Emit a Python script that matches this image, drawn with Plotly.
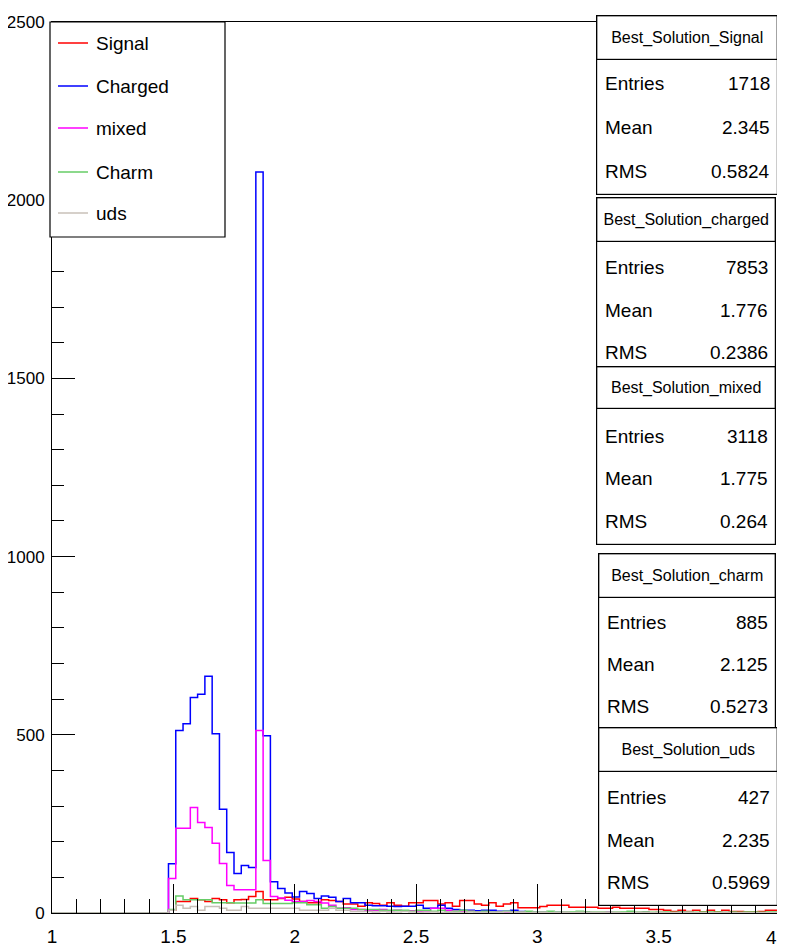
import plotly.graph_objects as go

# ---------------- data (bin contents, 100 bins from 1 to 4) ----------------
N_BINS = 100
X_LOW, X_HIGH = 1.0, 4.0

signal = [0]*16 + [
    8, 32, 32, 41, 37, 32, 41, 37, 29, 37, 38, 46, 60, 37, 37, 41,
    44, 39, 32, 29, 29, 37, 35, 32, 25, 25, 19, 29, 27, 22, 29, 22, 19, 29,
    29, 35, 35, 25, 29, 19, 35, 35, 25, 22, 29, 19, 25, 29, 15, 15, 15,
    18, 22, 22, 22, 16, 16, 16, 16, 13, 13, 16, 13, 13, 13, 13, 10, 10,
    8, 4, 8, 4, 8, 3, 8, 3, 8, 4, 4, 3, 3, 4, 8, 8]

charged = [0]*16 + [
    138, 512, 531, 605, 614, 664, 503, 291, 170, 111, 133, 128, 2079, 497,
    88, 69, 56, 45, 60, 55, 41, 48, 44, 32, 41, 29, 29, 22, 20, 20,
    19, 18, 19, 19, 22, 13, 13, 22, 13, 10, 8, 8, 6, 8, 8, 5, 5, 8, 4, 2,
    2, 2, 1, 2, 1, 1, 0, 1, 0, 0, 1, 0, 0, 0, 0, 1, 0, 0, 0, 0,
    0, 0, 0, 0, 0, 0, 0, 0, 0, 0, 0, 0, 0, 0]

mixed = [0]*16 + [
    97, 238, 238, 296, 254, 240, 196, 139, 77, 65, 65, 65, 512, 147,
    46, 42, 36, 32, 32, 35, 32, 28, 22, 13, 15, 10, 10, 8, 8, 10,
    6, 8, 5, 6, 5, 4, 13, 13, 8, 5, 4, 5, 3, 3, 2, 3, 2, 2, 3, 2,
    1, 2, 1, 1, 2, 1, 1, 2, 1, 1, 2, 1, 0, 1, 1, 2, 1, 0, 1, 1,
    2, 1, 0, 1, 1, 0, 1, 0, 1, 1, 0, 1, 0, 1]

charm = [0]*16 + [
    10, 48, 37, 37, 37, 37, 29, 29, 29, 28, 28, 28, 37, 27, 27, 27,
    27, 29, 29, 23, 23, 13, 18, 13, 13, 13, 10, 10, 10, 8, 8, 8,
    8, 5, 8, 8, 5, 8, 3, 5, 8, 5, 3, 5, 3, 3, 5, 3, 3, 5, 3, 3,
    5, 3, 3, 3, 5, 3, 3, 3, 2, 3, 3, 5, 3, 3, 2, 3, 3, 2, 3, 3,
    2, 3, 3, 3, 2, 3, 2, 3, 3, 2, 3, 3]

uds = [0]*16 + [
    8, 22, 13, 18, 8, 18, 18, 13, 8, 8, 18, 13, 13, 13, 13, 13,
    13, 13, 8, 8, 8, 8, 13, 8, 8,
    4, 4, 4, 3, 4, 3, 3, 4, 3, 2, 3, 3, 2, 3, 2, 2, 3, 2, 2, 2,
    2, 3, 2, 2, 1, 2, 2, 1, 2, 2, 1, 2, 1, 2, 2, 1, 2, 1, 1, 2,
    1, 1, 2, 1, 1, 1, 2, 1, 1, 1, 1, 2, 1, 1, 1, 1, 1, 1, 1]

names = ["Signal", "Charged", "mixed", "Charm", "uds"]
colors = ["#ff0000", "#0000ff", "#ff00ff", "#66cc66", "#c8c0b8"]
series = [signal, charged, mixed, charm, uds]

stats = [
    ("Best_Solution_Signal", "1718", "2.345", "0.5824"),
    ("Best_Solution_charged", "7853", "1.776", "0.2386"),
    ("Best_Solution_mixed", "3118", "1.775", "0.264"),
    ("Best_Solution_charm", "885", "2.125", "0.5273"),
    ("Best_Solution_uds", "427", "2.235", "0.5969"),
]

x_ticks = [1, 1.5, 2, 2.5, 3, 3.5, 4]
x_tick_labels = ["1", "1.5", "2", "2.5", "3", "3.5", "4"]
y_ticks = [0, 500, 1000, 1500, 2000, 2500]

# ---------------- layout geometry ----------------
# the page places the figure 8px in from the top-left corner
OFF = 8
W, H = 785 - OFF, 951 - OFF
L, R, T, B = 52 - OFF, 5, 22 - OFF, 38
PW, PH = W - L - R, H - T - B
FONT = "Liberation Sans, Arial, sans-serif"


def px(x, y):
    """screen pixel -> paper coordinates"""
    x -= OFF
    y -= OFF
    return (x - L) / PW, (H - B - y) / PH


fig = go.Figure()
step = (X_HIGH - X_LOW) / N_BINS
edges = [X_LOW + i * step for i in range(N_BINS + 1)]
for name, col, vals in zip(names, colors, series):
    fig.add_trace(go.Scatter(
        x=edges, y=list(vals) + [vals[-1]], mode="lines", name=name,
        line=dict(color=col, width=1.5, shape="hv"), showlegend=False))

shapes = []
annotations = []

# ---------------- legend (drawn manually, ROOT style) ----------------
lx0, ly0, lx1, ly1 = 50, 22, 225, 237
a0, b0 = px(lx0, ly0)
a1, b1 = px(lx1, ly1)
shapes.append(dict(type="rect", xref="paper", yref="paper", x0=a0, x1=a1, y0=b1, y1=b0,
                   line=dict(color="black", width=1.2), fillcolor="white", layer="above"))
row_y = [43, 86, 128, 172, 213]
for name, col, ry in zip(names, colors, row_y):
    xa, ya = px(58, ry)
    xb, _ = px(88, ry)
    shapes.append(dict(type="line", xref="paper", yref="paper", x0=xa, x1=xb, y0=ya, y1=ya,
                       line=dict(color=col, width=1.5), layer="above"))
    xt, yt = px(94, ry)
    annotations.append(dict(x=xt, y=yt, xref="paper", yref="paper", text=name,
                            xanchor="left", yanchor="middle", showarrow=False,
                            font=dict(family=FONT, size=19, color="black")))

# ---------------- stat boxes ----------------
boxes = [
    # x0, x1, top, title_bottom, bottom, rows_y  (screen pixels)
    (596, 778, 15, 60, 195, (83, 127, 171)),
    (596, 776, 197, 242, 380, (267, 310, 352)),
    (596, 776, 366, 409, 545, (436, 478, 521)),
    (598, 776, 553, 598, 740, (622, 665, 706)),
    (598, 778, 727, 772, 906, (797, 840, 882)),
]
for (title, ent, mean, rms), (bx0, bx1, top, tb, bot, rows) in zip(stats, boxes):
    cx, cy = px((bx0 + bx1) / 2, (top + bot) / 2)
    annotations.append(dict(x=cx, y=cy, xref="paper", yref="paper", text=" ",
                            width=bx1 - bx0 - 2, height=bot - top - 2, bgcolor="white",
                            bordercolor="black", borderwidth=1.2, borderpad=0,
                            showarrow=False, xanchor="center", yanchor="middle"))
    tx, ty = px((bx0 + bx1) / 2, (top + tb) / 2)
    annotations.append(dict(x=tx, y=ty, xref="paper", yref="paper", text=title,
                            width=bx1 - bx0 - 2, height=tb - top - 2, bgcolor="rgba(0,0,0,0)",
                            bordercolor="black", borderwidth=1.2, borderpad=0,
                            showarrow=False, xanchor="center", yanchor="middle",
                            font=dict(family=FONT, size=16, color="black")))
    for lab, val, ry in zip(("Entries", "Mean", "RMS"), (ent, mean, rms), rows):
        lx, ly = px(bx0 + 7, ry)
        rx, _ = px(bx1 - 6, ry)
        annotations.append(dict(x=lx, y=ly, xref="paper", yref="paper", text=lab,
                                xanchor="left", yanchor="middle", showarrow=False,
                                font=dict(family=FONT, size=19, color="black")))
        annotations.append(dict(x=rx, y=ly, xref="paper", yref="paper", text=val,
                                xanchor="right", yanchor="middle", showarrow=False,
                                font=dict(family=FONT, size=19, color="black")))

# the last x label sits at the very edge of the page: place it just inside
axis_labels = list(x_tick_labels)
last_label = axis_labels[-1]
axis_labels[-1] = ""
lx4, ly4 = px(779, 937)
annotations.append(dict(x=lx4, y=ly4, xref="paper", yref="paper", text=last_label,
                        xanchor="right", yanchor="middle", showarrow=False,
                        font=dict(family=FONT, size=19, color="black")))

fig.update_layout(
    width=W, height=H,
    margin=dict(l=L, r=R, t=T, b=B, pad=0),
    paper_bgcolor="white", plot_bgcolor="white",
    shapes=shapes, annotations=annotations,
    showlegend=False,
    xaxis=dict(range=[X_LOW, X_HIGH], showgrid=False, zeroline=False, automargin=False,
               showline=True, linecolor="black", linewidth=1, mirror=True,
               ticks="inside", ticklen=29, tickcolor="black", tickwidth=1,
               tickvals=x_ticks, ticktext=axis_labels, ticklabelstandoff=6,
               ticklabeloverflow="allow",
               minor=dict(ticks="inside", ticklen=14, dtick=0.1, tickcolor="black", tickwidth=1),
               tickfont=dict(family=FONT, size=19, color="black")),
    yaxis=dict(range=[0, 2500], showgrid=False, zeroline=False, automargin=False,
               showline=True, linecolor="black", linewidth=1, mirror=True,
               ticks="inside", ticklen=23, tickcolor="black", tickwidth=1,
               tickvals=y_ticks, ticklabelstandoff=3, ticklabeloverflow="allow",
               minor=dict(ticks="inside", ticklen=12, dtick=100, tickcolor="black", tickwidth=1),
               tickfont=dict(family=FONT, size=17, color="black")),
)

fig.write_html("out.html")
